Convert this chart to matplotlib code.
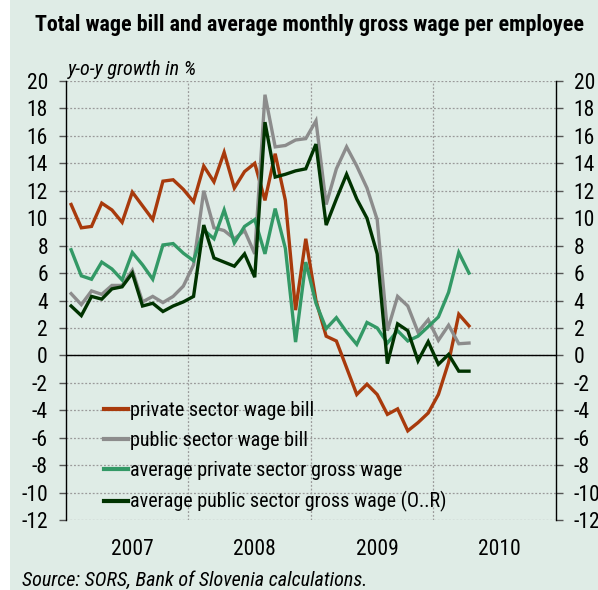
import numpy as np
import matplotlib
matplotlib.use("Agg")
import matplotlib.pyplot as plt
from matplotlib.patches import Rectangle
from matplotlib.transforms import blended_transform_factory

# ---------------------------------------------------------------------------
# Monthly y-o-y growth in %, Jan 2007 - Apr 2010
# ---------------------------------------------------------------------------
years = [2007, 2008, 2009, 2010]

private_bill = [11.0, 9.3, 9.4, 11.1, 10.6, 9.7, 11.9, 10.9, 9.9, 12.7, 12.8, 12.1,
                11.2, 13.8, 12.65, 14.8, 12.2, 13.4, 14.0, 11.3, 14.7, 11.3, 3.3, 8.5,
                4.0, 1.4, 1.05, -0.9, -2.85, -2.1, -2.85, -4.3, -3.9, -5.5, -4.9, -4.2,
                -2.85, -0.5, 3.0, 2.15]

public_bill = [4.5, 3.7, 4.7, 4.45, 5.1, 5.1, 6.2, 3.9, 4.3, 3.85, 4.3, 5.05,
               6.6, 12.0, 9.3, 9.1, 8.5, 9.1, 7.4, 19.0, 15.2, 15.3, 15.7, 15.8,
               17.1, 11.0, 13.6, 15.2, 13.8, 12.2, 9.9, 1.8, 4.3, 3.6, 1.7, 2.6,
               1.1, 2.2, 0.85, 0.9]

avg_private = [7.7, 5.8, 5.55, 6.8, 6.3, 5.5, 7.5, 6.6, 5.55, 8.05, 8.15, 7.45,
               6.9, 9.15, 8.5, 10.6, 8.2, 9.4, 9.9, 7.4, 10.7, 7.8, 0.97, 6.8,
               3.8, 1.95, 2.75, 1.7, 0.8, 2.4, 2.0, 0.9, 1.8, 1.05, 1.4, 2.1,
               2.8, 4.6, 7.5, 6.0]

avg_public = [3.6, 2.9, 4.3, 4.1, 4.85, 5.0, 6.0, 3.6, 3.8, 3.2, 3.6, 3.9,
              4.3, 9.5, 7.1, 6.8, 6.5, 7.4, 5.7, 17.0, 13.0, 13.2, 13.45, 13.6,
              15.4, 9.5, 11.4, 13.2, 11.4, 10.0, 7.4, -0.6, 2.3, 1.8, -0.4, 1.0,
              -0.65, 0.07, -1.15, -1.15]

series_labels = ["private sector wage bill",
                 "public sector wage bill",
                 "average private sector gross wage",
                 "average public sector gross wage (O..R)"]
series_colors = ["#a83a0c", "#8c8c8c", "#339966", "#003300"]

BG = "#dfece6"
FONT = ["Roboto Condensed", "PT Sans Narrow", "Liberation Sans", "DejaVu Sans"]


def draw_chart():
    plt.rcParams["font.family"] = FONT

    fig = plt.figure(figsize=(5.98, 5.90), dpi=100, facecolor="white")
    # shaded panel, leaving a thin white strip on the left
    fig.patches.append(Rectangle((10 / 598, 0), 1, 1, transform=fig.transFigure,
                                 facecolor=BG, edgecolor="none", zorder=-10))

    ax = fig.add_axes([0.1104, 0.1186, 0.8189, 0.7441])
    ax.set_facecolor(BG)

    # months counted from Jan 2007, points sit mid-month
    x = np.arange(len(private_bill)) + 0.5
    data = [private_bill, public_bill, avg_private, avg_public]
    for vals, lab, col in zip(data, series_labels, series_colors):
        ax.plot(x, vals, color=col, lw=2.4, label=lab, solid_joinstyle="miter")

    ax.set_xlim(0, 12 * len(years))
    ax.set_ylim(-12, 20)
    yt = np.arange(-12, 21, 2)
    ax.set_yticks(yt)

    # grid: dotted horizontal every 2 pp, vertical at year boundaries
    for yv in yt:
        ax.axhline(yv, color="#9a9a9a", lw=0.9, ls=(0, (1.5, 1.5)), zorder=0)
    for k in range(1, len(years)):
        ax.axvline(12 * k, color="#9a9a9a", lw=0.9, ls=(0, (1.5, 1.5)), zorder=0)
    ax.axhline(0, color="black", lw=1.0, zorder=1)

    ax.set_xticks([])
    trans = blended_transform_factory(ax.transData, ax.transAxes)
    for k, yr in enumerate(years):
        ax.text(12 * k + 6.5, -0.066, str(yr), transform=trans,
                ha="center", va="center", fontsize=15.5)

    for side in ["top", "bottom"]:
        ax.spines[side].set_visible(False)
    for side in ["left", "right"]:
        ax.spines[side].set_color("black")
        ax.spines[side].set_linewidth(1.0)

    ax.tick_params(axis="y", which="both", direction="out", length=5,
                   width=1.0, color="#555555", labelsize=15.5, pad=8,
                   left=True, right=True, labelleft=True, labelright=True)
    ax.set_yticklabels([str(int(v)) for v in yt])

    leg = ax.legend(loc="upper left", bbox_to_anchor=(0.078, 0.271),
                    bbox_transform=ax.transAxes, frameon=False, fontsize=14.5,
                    handlelength=1.2, handletextpad=0.1, labelspacing=0.55,
                    borderpad=0, borderaxespad=0)
    for line in leg.get_lines():
        line.set_linewidth(3.0)

    fig.text(0.0585, 0.9576, "Total wage bill and average monthly gross wage per employee",
             ha="left", va="center", fontsize=15.8, fontweight="bold")
    fig.text(0.1137, 0.8814, "y-o-y growth in %", ha="left", va="center",
             fontsize=14.5, style="italic")
    fig.text(0.0368, 0.017, "Source: SORS, Bank of Slovenia calculations.",
             ha="left", va="center", fontsize=14.5, style="italic")

    fig.savefig("out.png", dpi=100, facecolor=fig.get_facecolor())


def main():
    draw_chart()


if __name__ == "__main__":
    main()
